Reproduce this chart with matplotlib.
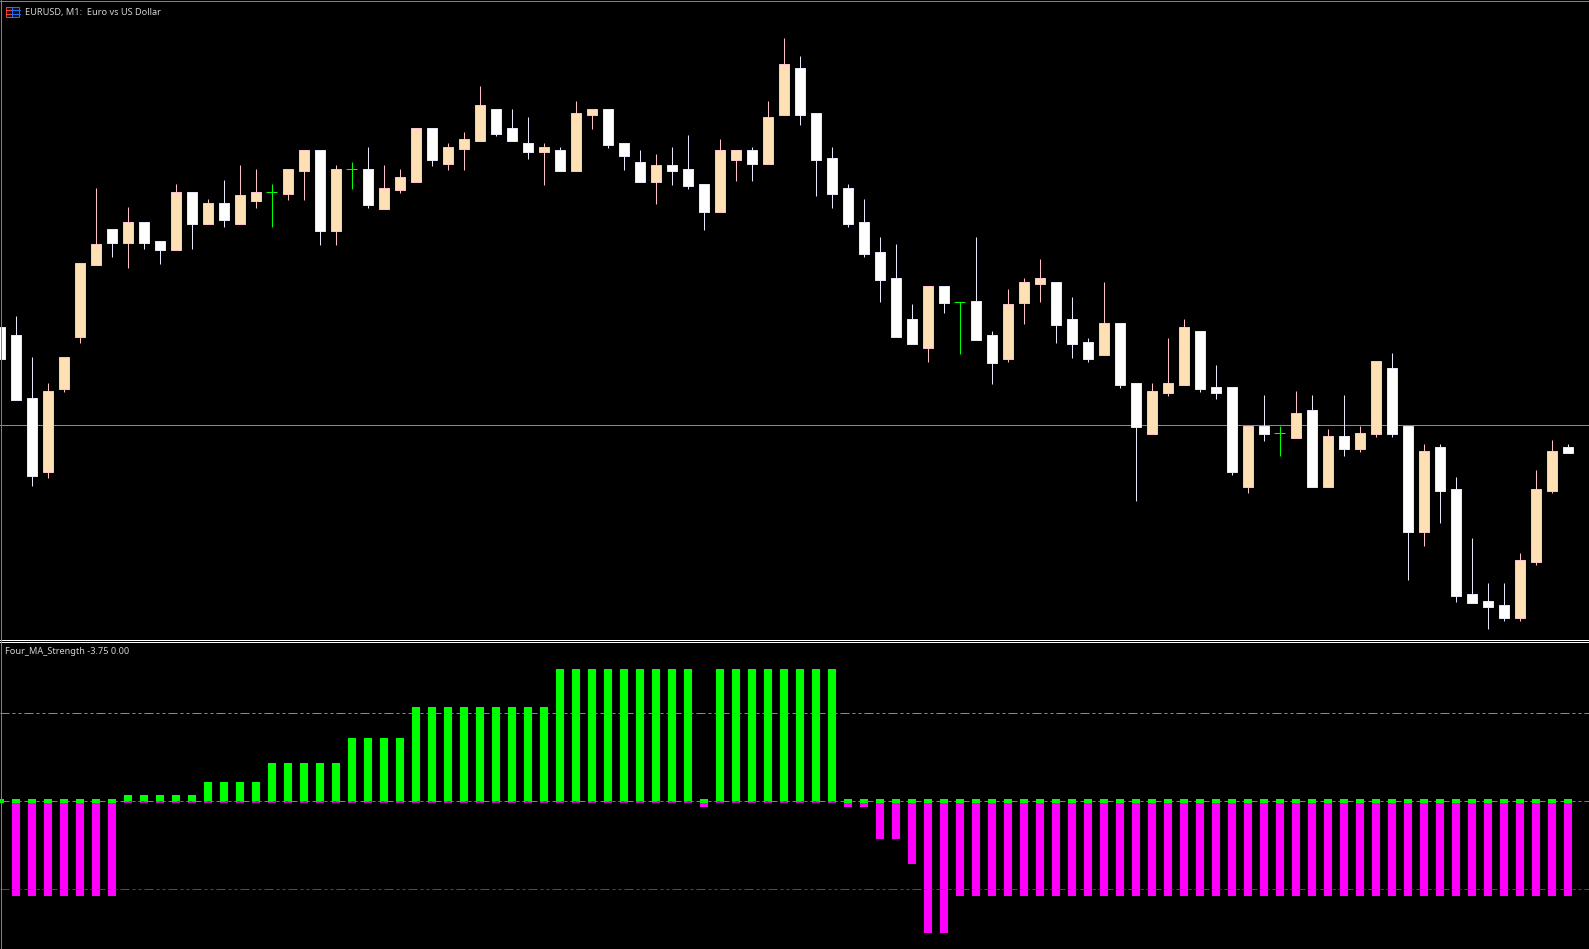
import matplotlib
matplotlib.use("Agg")
import matplotlib.pyplot as plt
from matplotlib.patches import Rectangle

W, H = 1589, 949
plt.rcParams['lines.scale_dashes'] = False
plt.rcParams['font.family'] = ['Noto Sans', 'DejaVu Sans']

# candles, in chart ticks above the bottom of the price pane
opens = [313,305,242,168,251,303,375,411,397,418,399,390,448,416,437,416,439,448,446,469,
         490,409,471,471,431,450,458,512,476,491,499,531,512,497,488,490,469,525,531,497,
         478,458,475,471,456,428,480,490,476,525,572,527,482,452,418,388,362,321,292,354,
         338,339,305,281,337,356,358,321,298,285,317,257,206,247,255,309,253,253,153,214,
         207,202,230,153,204,191,206,272,214,108,193,151,46,39,35,22,78,149,193]
highs = [313,324,283,257,283,377,452,411,433,418,399,456,448,441,460,475,471,456,471,490,
         490,475,478,493,475,471,512,512,497,508,554,531,531,523,497,493,539,531,531,497,
         490,486,493,505,456,501,490,493,539,602,584,527,493,456,441,403,396,336,354,354,
         338,403,309,351,362,381,358,343,302,358,317,257,257,302,321,309,275,253,214,245,
         214,249,245,211,245,214,279,287,214,196,196,163,102,57,57,87,170,200,196]
lows = [281,240,154,162,248,297,375,383,372,391,376,390,391,416,413,416,432,413,440,440,
        395,395,451,432,431,447,458,474,470,470,499,504,499,481,455,469,469,511,492,470,
        458,436,455,451,410,428,459,459,476,525,515,444,432,413,383,338,303,296,278,327,
        286,300,256,278,316,338,297,282,278,285,252,139,206,244,255,248,241,165,147,199,
        184,202,153,153,184,188,203,203,60,94,117,38,37,11,19,19,75,147,187]
closes = [281,240,164,249,283,377,396,397,418,397,390,448,416,437,420,445,448,448,471,490,
          409,471,471,435,452,463,512,480,493,501,535,506,499,488,493,469,527,531,495,484,
          458,475,469,454,428,490,490,476,523,576,525,480,446,416,386,360,303,296,354,337,
          338,300,277,336,358,362,315,296,281,317,255,213,249,257,313,251,247,168,214,206,
          207,227,153,204,191,207,279,206,108,189,149,44,37,33,22,80,151,189,187]

bid_level = 215

# indicator histogram, one value per candle
strength = [0] + [-3.75]*7 + [0.25]*5 + [0.75]*4 + [1.5]*5 + [2.5]*4 + [3.75]*9 + [5.25]*9 \
    + [-0.25] + [5.25]*8 + [-0.25]*2 + [-1.5]*2 + [-2.5] + [-5.25]*2 + [-3.75]*39
levels = [3.5, 0, -3.5]
level_colors = ['#3cb371', '#808080', '#ff0000']

title_text = "EURUSD, M1:  Euro vs US Dollar"
sub_text = "Four_MA_Strength -3.75 0.00"

UP_FILL, UP_EDGE = '#ffe0b5', '#ffc0cb'
DOWN_FILL, DOWN_EDGE = '#ffffff', '#e6e6fa'
GREEN, MAGENTA = '#00ff00', '#ff00ff'
PX = 72 / 100  # one pixel in points
DASH = (0, (9*PX, 3*PX, 3*PX, 3*PX, 3*PX, 3*PX))

fig = plt.figure(figsize=(W/100, H/100), dpi=100, facecolor='black')


def pane(top, bottom):
    return fig.add_axes([0, 1 - bottom/H, 1, (bottom - top)/H], facecolor='black')


ax = pane(0, 640)
ax.set_xlim(0.5/16, (W + 0.5)/16)
ax.set_ylim(0, 640)
ax.axis('off')

ax.axhline(bid_level, color='#868a96', lw=PX, zorder=1)
for i in range(len(opens)):
    o, h, l, c = opens[i], highs[i], lows[i], closes[i]
    if o == c:
        ax.vlines(i, l, h, color=GREEN, lw=PX, zorder=2)
        ax.hlines(o, i - 5.5/16, i + 5.5/16, color=GREEN, lw=PX, zorder=2)
        continue
    fill, edge = (UP_FILL, UP_EDGE) if c > o else (DOWN_FILL, DOWN_EDGE)
    ax.vlines(i, l, h, color=edge, lw=PX, zorder=2)
    ax.bar(i, abs(c - o), bottom=min(o, c), width=10/16, color=fill, edgecolor=edge,
           linewidth=PX, zorder=3)

ax2 = pane(642, H)
ax2.set_xlim(0.5/16, (W + 0.5)/16)
ax2.set_ylim((801 - H)/25.2, (801 - 642)/25.2)
ax2.axis('off')

cap = 0.09
for i, v in enumerate(strength):
    if v > 0:
        ax2.bar(i, v, width=0.5, color=GREEN, linewidth=0, zorder=2)
        ax2.bar(i, -cap, width=0.5, color='#d000d0', linewidth=0, zorder=2)
    else:
        ax2.bar(i, v, width=0.5, color=MAGENTA, linewidth=0, zorder=2)
        ax2.bar(i, 2*cap, bottom=-cap, width=0.5, color=GREEN, linewidth=0, zorder=3)

for lev, col in zip(levels, level_colors):
    ax2.axhline(lev, color=col, lw=PX, linestyle=DASH, zorder=4)

# pane borders and separators
px_x = lambda x: x/W
px_y = lambda y: 1 - y/H
fig.add_artist(plt.Line2D([0, 1], [px_y(639.5)]*2, color='white', lw=PX))
fig.add_artist(plt.Line2D([0, 1], [px_y(641.5)]*2, color='white', lw=PX))
fig.add_artist(plt.Line2D([0, 1], [px_y(0.5)]*2, color='#808080', lw=PX))
fig.add_artist(plt.Line2D([px_x(0.5)]*2, [0, 1], color='#808080', lw=PX))


# little chart icon next to the title
def icon_box(x0, x1, col):
    fig.add_artist(Rectangle((px_x(x0), px_y(16.5)), (x1 - x0)/W, 10/H, transform=fig.transFigure,
                             facecolor='#101020', edgecolor=col, lw=PX))
    for y in (9.5, 13.5):
        fig.add_artist(plt.Line2D([px_x(x0), px_x(x1)], [px_y(y)]*2, color=col, lw=PX))


icon_box(5.5, 12.5, '#f04030')
icon_box(12.5, 19.5, '#2070f0')

fig.text(px_x(25), px_y(12.5), title_text, color='#d4d4d4', fontsize=6.6, va='center', ha='left')
fig.text(px_x(5), px_y(651), sub_text, color='#d4d4d4', fontsize=6.6, va='center', ha='left')

fig.savefig("out.png", dpi=100, facecolor='black')
